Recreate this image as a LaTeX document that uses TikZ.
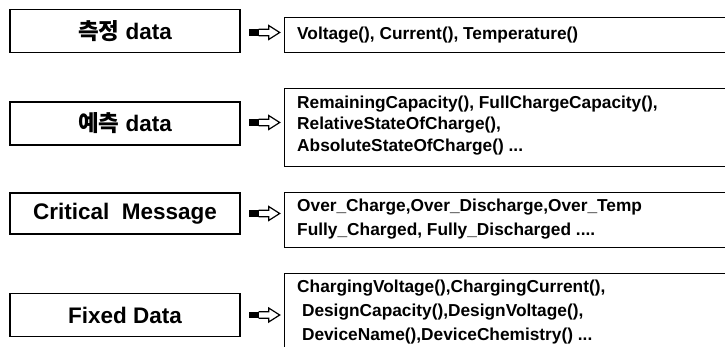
\documentclass[tikz,border=0pt]{standalone}
\usepackage{fontspec}
\setmainfont{Liberation Sans}
\newfontfamily\kr{Noto Sans CJK KR}
\usetikzlibrary{calc}
\tikzset{
  lbox/.style={draw, line width=1.4pt, minimum width=230pt, minimum height=43pt, inner sep=0pt,
    font=\fontsize{22.5}{26}\selectfont\bfseries},
  rbox/.style={draw, line width=1.4pt, anchor=north west, minimum width=460pt, inner sep=0pt},
  rtext/.style={anchor=west, align=left, inner sep=0pt, font=\fontsize{17.3}{#1}\selectfont\bfseries},
  rtext/.default=21.5,
  harrow/.pic={
    \fill (0,-3.2) rectangle (10,3.2);
    \draw[line width=1.2pt, line join=miter] (10,-3.2) -- (20,-3.2) -- (20,-7) -- (31,0) -- (20,7) -- (20,3.2) -- (10,3.2);
  }
}
\begin{document}
\begin{tikzpicture}[x=1pt, y=-1pt]
\clip (0,0) rectangle (725,347);
\fill[white] (0,0) rectangle (725,347);
% left boxes
\node[lbox] (L1) at (125,31) {{\kr\bfseries 측정} data};
\node[lbox] (L2) at (125,123.5) {{\kr\bfseries 예측} data};
\node[lbox, minimum height=41pt] (L3) at (125,213.5) {Critical\ \ Message};
\node[lbox] (L4) at (125,315) {Fixed Data};
% right boxes
\node[rbox, minimum height=35pt] (R1) at (284,17) {};
\node[rbox, minimum height=78pt] (R2) at (284,88) {};
\node[rbox, minimum height=55pt] (R3) at (284,192) {};
\node[rbox, minimum height=90pt] (R4) at (284,273) {};
% texts
\node[rtext] (T1) at ($(R1.west)+(13,0)$) {Voltage(), Current(), Temperature()};
\node[rtext] (T2) at ($(R2.north west)+(13,37.5)$) {RemainingCapacity(), FullChargeCapacity(),\\RelativeStateOfCharge(),\\AbsoluteStateOfCharge() ...};
\node[rtext=24] (T3) at ($(R3.north west)+(13,27.5)$) {Over\_Charge,Over\_Discharge,Over\_Temp\\Fully\_Charged, Fully\_Discharged ....};
\node[rtext=24] (T4) at ($(R4.north west)+(13,39.5)$) {ChargingVoltage(),ChargingCurrent(),\\\ DesignCapacity(),DesignVoltage(),\\\ DeviceName(),DeviceChemistry() ...};
% arrows
\pic at ($(L1.east)+(8,1.5)$) {harrow};
\pic at ($(L2.east)+(8,-1)$) {harrow};
\pic at ($(L3.east)+(8,0)$) {harrow};
\pic at ($(L4.east)+(8,0)$) {harrow};
\end{tikzpicture}
\end{document}
